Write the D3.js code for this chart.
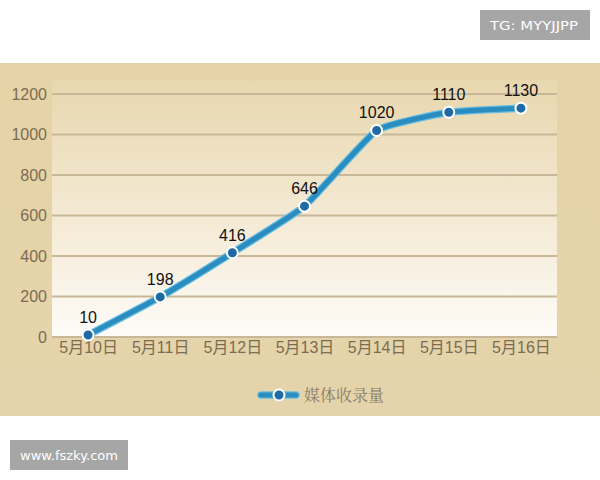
<!DOCTYPE html>
<html><head><meta charset="utf-8">
<script src="https://cdn.jsdelivr.net/npm/d3@7"></script>
<style>body{margin:0;background:#fff;}svg{display:block;}</style>
</head><body>
<script>
const categories = ["5月10日","5月11日","5月12日","5月13日","5月14日","5月15日","5月16日"];
const values = [10,198,416,646,1020,1110,1130];
const yTicks = [0,200,400,600,800,1000,1200];
const seriesName = "媒体收录量";

const W=600,H=480;
const svg=d3.select("body").append("svg").attr("width",W).attr("height",H);
const defs=svg.append("defs");
const bg=defs.append("linearGradient").attr("id","bg").attr("x1",0).attr("x2",0).attr("y1",0).attr("y2",1);
bg.append("stop").attr("offset","0%").attr("stop-color","#e6d3a7");
bg.append("stop").attr("offset","100%").attr("stop-color","#e5d4ab");
const pg=defs.append("linearGradient").attr("id","pg").attr("x1",0).attr("x2",0).attr("y1",0).attr("y2",1);
pg.append("stop").attr("offset","0%").attr("stop-color","#e8d7ae");
pg.append("stop").attr("offset","55%").attr("stop-color","#f4ead5");
pg.append("stop").attr("offset","100%").attr("stop-color","#fefcf8");

svg.append("rect").attr("x",0).attr("y",63).attr("width",W).attr("height",353).attr("fill","url(#bg)");

const x=d3.scalePoint().domain(categories).range([52,557]).padding(0.5);
const y=d3.scaleLinear().domain([0,1200]).range([337,94]);

svg.append("rect").attr("x",52).attr("y",80).attr("width",505).attr("height",337-80).attr("fill","url(#pg)");

// gridlines
svg.append("g").selectAll("line").data(yTicks).join("line")
  .attr("x1",52).attr("x2",557).attr("y1",d=>y(d)).attr("y2",d=>y(d))
  .attr("stroke","#c8b898").attr("stroke-width",2);

// y axis
const ya=svg.append("g").attr("transform","translate(50,0)")
  .call(d3.axisLeft(y).tickValues(yTicks).tickFormat(d3.format("d")).tickSize(0).tickPadding(3));
ya.select(".domain").remove();
ya.selectAll("text").attr("font-family","Arial, 'Liberation Sans', sans-serif").attr("font-size",16).attr("fill","#7b6c52");

// x axis
const xa=svg.append("g").attr("transform","translate(0,337)")
  .call(d3.axisBottom(x).tickSize(0).tickPadding(5));
xa.select(".domain").remove();
xa.selectAll("text").attr("font-family","Arial, 'Liberation Sans', 'Noto Sans CJK SC', sans-serif").attr("font-size",16).attr("fill","#7b6c52");

// line
const line=d3.line().x((d,i)=>x(categories[i])).y(d=>y(d)).curve(d3.curveCardinal.tension(0.6));
svg.append("path").datum(values).attr("d",line).attr("fill","none").attr("stroke","#66bde0").attr("stroke-width",7.5).attr("stroke-linecap","round");
svg.append("path").datum(values).attr("d",line).attr("fill","none").attr("stroke","#2a8cbf").attr("stroke-width",5).attr("stroke-linecap","round");

svg.append("g").selectAll("circle").data(values).join("circle")
  .attr("cx",(d,i)=>x(categories[i])).attr("cy",d=>y(d)).attr("r",5.5)
  .attr("fill","#1f6aa5").attr("stroke","#ffffff").attr("stroke-width",2);

svg.append("g").selectAll("text").data(values).join("text")
  .attr("x",(d,i)=>x(categories[i])).attr("y",d=>y(d)-12)
  .attr("text-anchor","middle").attr("font-family","Arial, 'Liberation Sans', sans-serif")
  .attr("font-size",16).attr("fill","#111").text(d=>d);

// legend
const lg=svg.append("g").attr("transform","translate(0,395)");
lg.append("line").attr("x1",261).attr("x2",296).attr("y1",0).attr("y2",0).attr("stroke","#66bde0").attr("stroke-width",7.5).attr("stroke-linecap","round");
lg.append("line").attr("x1",261).attr("x2",296).attr("y1",0).attr("y2",0).attr("stroke","#2a8cbf").attr("stroke-width",5).attr("stroke-linecap","round");
lg.append("circle").attr("cx",279).attr("cy",0).attr("r",5.5).attr("fill","#1f6aa5").attr("stroke","#fff").attr("stroke-width",2);
lg.append("text").attr("x",304).attr("y",6).attr("font-family","'Noto Serif CJK SC','Noto Sans CJK SC', serif").attr("font-size",16).attr("fill","#8a7b66").text(seriesName);

// watermarks
svg.append("rect").attr("x",480).attr("y",10).attr("width",110).attr("height",30).attr("fill","#a6a6a6");
svg.append("text").attr("x",490).attr("y",30).attr("font-family","Verdana, 'DejaVu Sans', sans-serif").attr("font-size",13).attr("textLength",88).attr("lengthAdjust","spacingAndGlyphs").attr("fill","#fff").text("TG: MYYJJPP");
svg.append("rect").attr("x",10).attr("y",440).attr("width",118).attr("height",30).attr("fill","#a6a6a6");
svg.append("text").attr("x",20).attr("y",460).attr("font-family","Verdana, 'DejaVu Sans', sans-serif").attr("font-size",13).attr("textLength",98).attr("lengthAdjust","spacingAndGlyphs").attr("fill","#fff").text("www.fszky.com");
</script>
</body></html>
